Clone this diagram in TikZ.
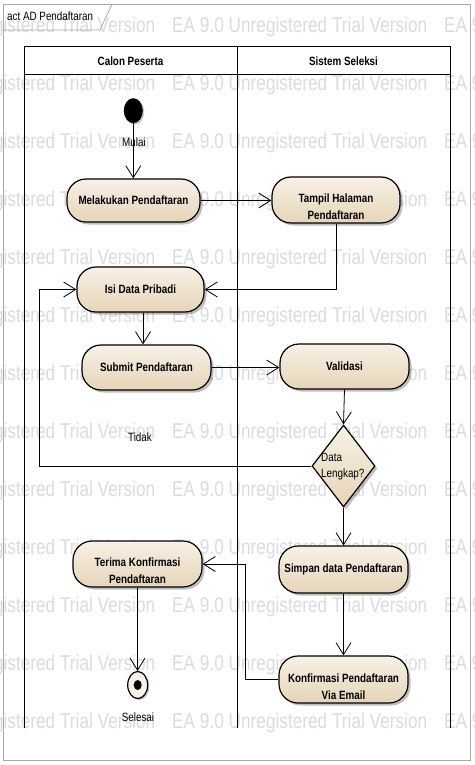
\documentclass[tikz,border=0pt]{standalone}
\usepackage{fontspec}
\setmainfont{Liberation Sans}
\newfontfamily\nar[FakeStretch=0.82]{Liberation Sans}
\usetikzlibrary{arrows.meta,shapes.geometric,shadows}
\pgfdeclarelayer{bg}
\pgfsetlayers{bg,main}
\definecolor{wm}{HTML}{DCDCDC}
\definecolor{ntop}{HTML}{F8F1E6}
\definecolor{nbot}{HTML}{E6D4B8}
\definecolor{framegray}{HTML}{A8A8A8}
\tikzset{
 act/.style={draw=black, line width=1.2pt, rectangle, rounded corners=19pt,
   top color=ntop, bottom color=nbot,
   drop shadow={shadow xshift=2.5pt, shadow yshift=-2.5pt, fill=black, opacity=0.25},
   inner sep=0pt, font=\nar\bfseries\fontsize{12}{17}\selectfont, align=center},
 acttext/.style={font=\nar\bfseries\fontsize{12}{17}\selectfont, align=center, inner sep=0pt},
 lbl/.style={font=\nar\fontsize{12}{16}\selectfont, inner sep=0pt},
 arr/.style={draw=black, line width=0.8pt, -{Straight Barb[length=12pt,width=15pt,line width=0.8pt]}},
 lane/.style={draw=black, line width=1pt},
 wmtext/.style={text=wm, inner sep=0pt, anchor=base west},
}
\newcommand{\wmstr}{\resizebox{255pt}{15.5pt}{EA 9.0 Unregistered Trial Version}}
\begin{document}
\begin{tikzpicture}[x=1pt,y=-1pt]
\useasboundingbox (0,0) rectangle (474,765);
\begin{pgfonlayer}{bg}
  \fill[white] (0,0) rectangle (474,765);
  \begin{scope}
    \clip (0,0) rectangle (474,765);
    \foreach \k in {0,...,12}{
      \foreach \m in {-1,0,1}{
        \node[wmtext] (wm-\k-\m) at ({172+272*\m},{33+57.92*\k}) {\wmstr};
      }
    }
  \end{scope}
\end{pgfonlayer}

% frame and tab
\draw[framegray, line width=0.8pt] (3,4) rectangle (470,760);
\draw[framegray, line width=0.8pt] (3,30) -- (100,30) -- (112,4);
\node[lbl, anchor=base west] (tab) at (7,21) {act AD Pendaftaran};

% swimlanes
\draw[lane] (24,728) -- (24,47) -- (450,47) -- (450,728);
\draw[lane] (24,75) -- (450,75);
\draw[lane] (237,47) -- (237,728);
\node[acttext] (h1) at (130.5,61) {Calon Peserta};
\node[acttext] (h2) at (343.5,61) {Sistem Seleksi};

% nodes
\node[ellipse, fill=black, minimum width=19pt, minimum height=25pt, inner sep=0pt,
  drop shadow={shadow xshift=1.5pt, shadow yshift=-1.5pt, fill=black, opacity=0.2}] (start) at (133.3,110.7) {};
\node[lbl] (mulai) at (134,142.5) {Mulai};

\node[act, minimum width=133pt, minimum height=43pt] (mel) at (133.5,200.5) {Melakukan Pendaftaran};
\node[act, minimum width=128pt, minimum height=46pt] (tam) at (336,200) {};
\node[acttext] (tamt) at (336,207) {Tampil Halaman\\Pendaftaran};
\node[act, minimum width=127pt, minimum height=45pt] (isi) at (140.5,289.5) {Isi Data Pribadi};
\node[act, minimum width=129pt, minimum height=45pt] (sub) at (146.5,367.5) {Submit Pendaftaran};
\node[act, minimum width=129pt, minimum height=45pt] (val) at (344.5,366.5) {Validasi};
\node[diamond, draw=black, line width=1.2pt, top color=ntop, bottom color=nbot,
  minimum width=63pt, minimum height=82pt, inner sep=0pt,
  drop shadow={shadow xshift=2.5pt, shadow yshift=-2.5pt, fill=black, opacity=0.25}] (dec) at (343.5,466) {};
\node[lbl, align=left, anchor=west] (dect) at (321,467) {Data\\Lengkap?};
\node[lbl] (tidak) at (140,437) {Tidak};
\node[act, minimum width=129pt, minimum height=47pt] (sim) at (343.5,569.5) {Simpan data Pendaftaran};
\node[act, minimum width=129pt, minimum height=47pt] (kon) at (343.5,679.5) {};
\node[acttext] (kont) at (343.5,687) {Konfirmasi Pendaftaran\\Via Email};
\node[act, minimum width=129pt, minimum height=46pt] (ter) at (137.5,564) {};
\node[acttext] (tert) at (137.5,571) {Terima Konfirmasi\\Pendaftaran};
\node[ellipse, draw=black, line width=1.2pt, fill=ntop, minimum width=20pt, minimum height=27pt, inner sep=0pt,
  drop shadow={shadow xshift=1.5pt, shadow yshift=-1.5pt, fill=black, opacity=0.25}] (end) at (137.7,685) {};
\node[ellipse, fill=black, minimum width=8pt, minimum height=10pt, inner sep=0pt] (enddot) at (end.center) {};
\node[lbl] (selesai) at (138,717) {Selesai};

% helper coordinates
\coordinate (lp) at (39,0);
\coordinate (kx) at (245,0);
\coordinate (ax) at (143,0);

% connectors
\draw[arr] (start.south) -- (start.south |- mel.north);
\draw[arr] (mel.east) -- (mel.east -| tam.west);
\draw[arr] (tam.south) |- (isi.east);
\draw[arr] (isi.south -| ax) -- (sub.north -| ax);
\draw[arr] (sub.east) -- (sub.east -| val.west);
\draw[arr] (val.south) -- (dec.north);
\draw[arr] (dec.west) -| (lp |- isi.west) -- (isi.west);
\draw[arr] (dec.south) -- (sim.north);
\draw[arr] (sim.south) -- (kon.north);
\draw[arr] (kon.west) -| (kx |- ter.east) -- (ter.east);
\draw[arr] (ter.south) -- (ter.south |- end.north);
\end{tikzpicture}
\end{document}
